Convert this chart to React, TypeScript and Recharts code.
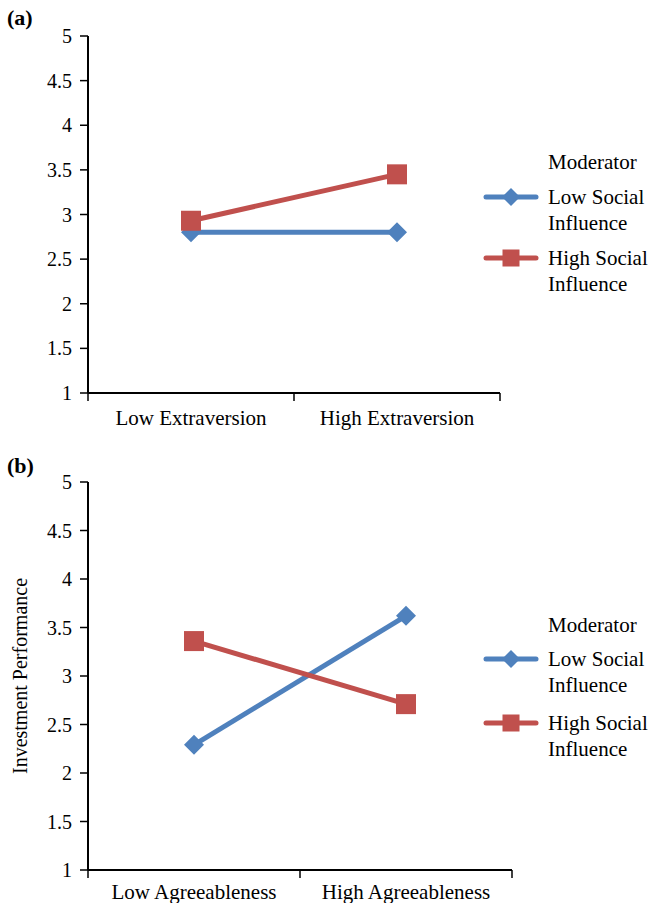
import { LineChart, Line, XAxis, YAxis, Legend } from "recharts";

const FONT = '"Liberation Serif", "Times New Roman", serif';
const BLUE = "#4F81BD";
const RED = "#C0504D";

const CATEGORIES_A = ["Low Extraversion", "High Extraversion"];
const LOW_SI_A = [2.8, 2.8];
const HIGH_SI_A = [2.93, 3.45];

const CATEGORIES_B = ["Low Agreeableness", "High Agreeableness"];
const LOW_SI_B = [2.29, 3.62];
const HIGH_SI_B = [3.36, 2.71];

const Y_TICKS = [1, 1.5, 2, 2.5, 3, 3.5, 4, 4.5, 5];
const SERIES_NAMES = ["Low Social Influence", "High Social Influence"];
const LEGEND_TITLE = "Moderator";

const buildRows = (cats: string[], low: number[], high: number[]) =>
  cats.map((c, i) => ({ name: c, low: low[i], high: high[i] }));

const Diamond = ({ cx, cy, r = 10, fill = BLUE }: any) => (
  <path d={`M${cx},${cy - r}L${cx + r},${cy}L${cx},${cy + r}L${cx - r},${cy}Z`} fill={fill} />
);

const Square = ({ cx, cy, r = 10, fill = RED }: any) => (
  <rect x={cx - r} y={cy - r} width={r * 2} height={r * 2} fill={fill} />
);

const makeXTick = (labelGap: number) => (props: any) => {
  const { x, y, payload, index, width, visibleTicksCount } = props;
  const half = width / (2 * (visibleTicksCount || 2));
  const axisY = y - 8;
  return (
    <g>
      <line x1={x - half} x2={x - half} y1={axisY} y2={axisY + 8} stroke="#000" strokeWidth={1.5} />
      {index === visibleTicksCount - 1 && (
        <line x1={x + half} x2={x + half} y1={axisY} y2={axisY + 8} stroke="#000" strokeWidth={1.5} />
      )}
      <text x={x} y={axisY + labelGap} textAnchor="middle" fontSize={21} fontFamily={FONT} fill="#000">
        {payload.value}
      </text>
    </g>
  );
};

const LegendBox = ({ gaps }: { gaps: number[] }) => (
  <div style={{ fontFamily: FONT, fontSize: 21, lineHeight: "26px", color: "#000" }}>
    <div style={{ paddingLeft: 65 }}>{LEGEND_TITLE}</div>
    {SERIES_NAMES.map((name, i) => (
      <div key={name} style={{ display: "flex", marginTop: gaps[i] }}>
        <svg width={56} height={26} style={{ flex: "none" }}>
          <line x1={3} x2={53} y1={13} y2={13} stroke={i === 0 ? BLUE : RED} strokeWidth={5} strokeLinecap="round" />
          {i === 0 ? <Diamond cx={28} cy={13} r={9} /> : <Square cx={28} cy={13} r={8.5} />}
        </svg>
        <div style={{ marginLeft: 9, width: 110 }}>{name}</div>
      </div>
    ))}
  </div>
);

type PanelProps = {
  rows: any[];
  height: number;
  right: number;
  xHeight: number;
  bottom: number;
  labelGap: number;
  legendTop: number;
  legendGaps: number[];
  yLabel?: string;
};

const Panel = ({ rows, height, right, xHeight, bottom, labelGap, legendTop, legendGaps, yLabel }: PanelProps) => (
  <LineChart width={650} height={height} data={rows} margin={{ top: 36, right, left: 8, bottom }}>
    <XAxis
      dataKey="name"
      scale="band"
      axisLine={{ stroke: "#000", strokeWidth: 2 }}
      tickLine={false}
      tickSize={8}
      tickMargin={0}
      height={xHeight}
      interval={0}
      tick={makeXTick(labelGap)}
    />
    <YAxis
      domain={[1, 5]}
      ticks={Y_TICKS}
      width={80}
      axisLine={{ stroke: "#000", strokeWidth: 2 }}
      tickLine={{ stroke: "#000", strokeWidth: 1.5 }}
      tickSize={8}
      tickMargin={8}
      tick={{ fill: "#000", fontSize: 20, fontFamily: FONT }}
      label={
        yLabel
          ? {
              content: ({ viewBox }: any) => {
                const cx = viewBox.x + 12;
                const cy = viewBox.y + viewBox.height / 2;
                return (
                  <text
                    x={cx}
                    y={cy}
                    transform={`rotate(-90 ${cx} ${cy})`}
                    textAnchor="middle"
                    dominantBaseline="central"
                    fontSize={20}
                    fontFamily={FONT}
                    fill="#000"
                  >
                    {yLabel}
                  </text>
                );
              },
            }
          : undefined
      }
    />
    <Legend
      layout="horizontal"
      verticalAlign="middle"
      align="center"
      wrapperStyle={{ position: "absolute", left: 483, top: legendTop, width: 170 }}
      content={() => <LegendBox gaps={legendGaps} />}
    />
    <Line
      dataKey="low"
      name={SERIES_NAMES[0]}
      stroke={BLUE}
      strokeWidth={5}
      isAnimationActive={false}
      activeDot={false}
      dot={(p: any) => <Diamond key={`dl-${p.index}`} cx={p.cx} cy={p.cy} />}
    />
    <Line
      dataKey="high"
      name={SERIES_NAMES[1]}
      stroke={RED}
      strokeWidth={5}
      isAnimationActive={false}
      activeDot={false}
      dot={(p: any) => <Square key={`dh-${p.index}`} cx={p.cx} cy={p.cy} />}
    />
  </LineChart>
);

const panelLetter: React.CSSProperties = {
  position: "absolute",
  left: 7,
  fontFamily: FONT,
  fontWeight: "bold",
  fontSize: 22,
  lineHeight: "22px",
  color: "#000",
};

export default function App() {
  return (
    <div style={{ position: "absolute", left: 0, top: 0, width: 650, height: 903, background: "#fff" }}>
      <div style={{ position: "absolute", left: 0, top: 0 }}>
        <Panel
          rows={buildRows(CATEGORIES_A, LOW_SI_A, HIGH_SI_A)}
          height={450}
          right={150}
          xHeight={40}
          bottom={17}
          labelGap={32}
          legendTop={149}
          legendGaps={[9, 9]}
        />
      </div>
      <div style={{ position: "absolute", left: 0, top: 446 }}>
        <Panel
          rows={buildRows(CATEGORIES_B, LOW_SI_B, HIGH_SI_B)}
          height={457}
          right={138}
          xHeight={33}
          bottom={0}
          labelGap={29}
          legendTop={166}
          legendGaps={[8, 12]}
          yLabel="Investment Performance"
        />
      </div>
      <div style={{ ...panelLetter, top: 7 }}>(a)</div>
      <div style={{ ...panelLetter, top: 455 }}>(b)</div>
    </div>
  );
}
